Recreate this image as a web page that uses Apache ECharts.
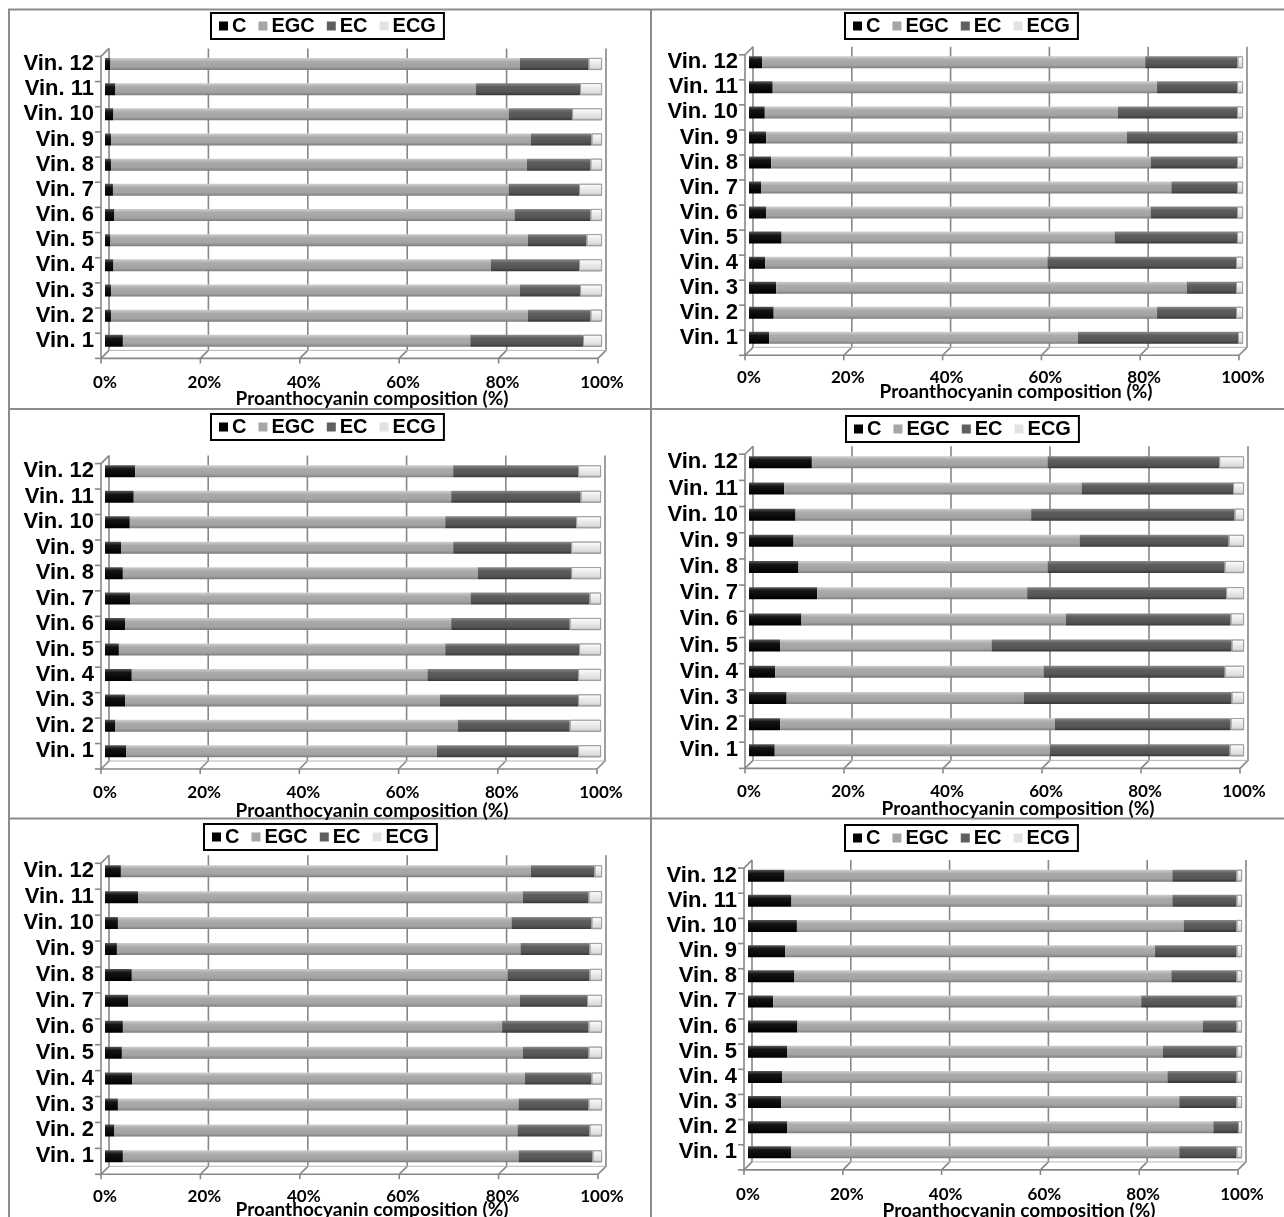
<!DOCTYPE html>
<html><head><meta charset="utf-8">
<script src="https://cdn.jsdelivr.net/npm/echarts@6/dist/echarts.min.js"></script>
<style>html,body{margin:0;padding:0;background:#fff}#c{width:1284px;height:1217px}</style>
</head><body><div id="c"></div>
<script>
const categories = ['Vin. 1','Vin. 2','Vin. 3','Vin. 4','Vin. 5','Vin. 6','Vin. 7','Vin. 8','Vin. 9','Vin. 10','Vin. 11','Vin. 12'];
const seriesNames = ['C','EGC','EC','ECG'];
const xTicks = [0,20,40,60,80,100];
const axisTitle = 'Proanthocyanin composition (%)';

// Panel 1 (top left)
const p1C   = [3.6, 1.2, 1.2, 1.7, 1.1, 1.9, 1.6, 1.2, 1.2, 1.7, 2.1, 1.1];
const p1EGC = [69.9,83.9,82.3,75.9,84.0,80.5,79.6,83.7,84.5,79.5,72.5,82.4];
const p1EC  = [22.7,12.6,12.1,17.8,11.8,15.3,14.2,12.8,12.2,12.8,21.0,13.8];
const p1ECG = [3.8, 2.3, 4.4, 4.6, 3.1, 2.3, 4.6, 2.3, 2.1, 6.0, 4.4, 2.7];
// Panel 2 (top right)
const p2C   = [4.1, 5.0, 5.5, 3.3, 6.6, 3.5, 2.5, 4.5, 3.5, 3.2, 4.8, 2.7];
const p2EGC = [62.5,77.6,83.1,57.1,67.4,77.8,83.0,76.8,73.0,71.5,77.8,77.5];
const p2EC  = [32.4,16.0,10.0,38.2,24.8,17.5,13.3,17.5,22.3,24.1,16.2,18.7];
const p2ECG = [1.0, 1.4, 1.4, 1.4, 1.2, 1.2, 1.2, 1.2, 1.2, 1.2, 1.2, 1.1];
// Panel 3 (middle left)
const p3C   = [4.3, 2.1, 4.1, 5.4, 2.8, 4.1, 5.1, 3.6, 3.3, 5.0, 5.8, 6.1];
const p3EGC = [62.6,69.0,63.4,59.6,65.8,65.7,68.6,71.6,66.9,63.6,64.0,64.1];
const p3EC  = [28.5,22.6,27.9,30.4,27.0,23.9,24.0,18.8,23.8,26.4,26.1,25.2];
const p3ECG = [4.6, 6.3, 4.6, 4.6, 4.4, 6.3, 2.3, 6.0, 6.0, 5.0, 4.1, 4.6];
// Panel 4 (middle right)
const p4C   = [5.2, 6.3, 7.6, 5.3, 6.3, 10.6,13.8,10.0,9.0, 9.4, 7.1, 12.7];
const p4EGC = [55.6,55.5,47.9,54.2,42.7,53.4,42.4,50.3,57.8,47.6,60.1,47.6];
const p4EC  = [36.3,35.5,42.0,36.6,48.5,33.3,40.2,35.8,30.1,41.1,30.6,34.7];
const p4ECG = [2.9, 2.7, 2.5, 3.9, 2.5, 2.7, 3.6, 3.9, 3.1, 1.9, 2.2, 5.0];
// Panel 5 (bottom left)
const p5C   = [3.6, 1.9, 2.6, 5.5, 3.4, 3.6, 4.7, 5.4, 2.4, 2.6, 6.7, 3.2];
const p5EGC = [79.6,81.1,80.6,79.0,80.7,76.3,78.8,75.6,81.2,79.2,77.4,82.5];
const p5EC  = [14.9,14.5,14.1,13.4,13.2,17.4,13.5,16.5,13.9,16.1,13.2,12.8];
const p5ECG = [1.9, 2.5, 2.7, 2.1, 2.7, 2.7, 3.0, 2.5, 2.5, 2.1, 2.7, 1.5];
// Panel 6 (bottom right)
const p6C   = [8.7, 7.9, 6.7, 6.9, 7.9, 10.0,5.1, 9.4, 7.5, 9.9, 8.8, 7.4];
const p6EGC = [78.6,86.3,80.6,78.0,76.1,82.1,74.5,76.3,74.9,78.3,77.1,78.5];
const p6EC  = [11.6,5.0, 11.6,14.0,14.9,6.8, 19.3,13.2,16.5,10.7,13.0,13.0];
const p6ECG = [1.1, 0.8, 1.1, 1.1, 1.1, 1.1, 1.1, 1.1, 1.1, 1.1, 1.1, 1.1];

const panelData = [
  [p1C,p1EGC,p1EC,p1ECG],[p2C,p2EGC,p2EC,p2ECG],[p3C,p3EGC,p3EC,p3ECG],
  [p4C,p4EGC,p4EC,p4ECG],[p5C,p5EGC,p5EC,p5ECG],[p6C,p6EGC,p6EC,p6ECG]
];

// layout (pixels)
const layout = [
  {left:105, width:497, top:51.4, height:302,  lgL:211, lgT:13,  lm:21, tx:372,  ty:399},
  {left:749, width:494, top:49.8, height:300.5,lgL:845, lgT:13,  lm:19, tx:1016, ty:392},
  {left:105, width:496, top:458.6,height:305.4,lgL:211, lgT:414, lm:20, tx:372,  ty:811},
  {left:749, width:495, top:449.2,height:314.2,lgL:846, lgT:416, lm:20, tx:1018, ty:809},
  {left:105, width:497, top:858.3,height:311,  lgL:204, lgT:824, lm:19, tx:372,  ty:1210},
  {left:748, width:494, top:863.1,height:301.8,lgL:845, lgT:825, lm:21, tx:1019, ty:1211}
];

function grad(stops){
  return new echarts.graphic.LinearGradient(0,0,0,1, stops.map(s=>({offset:s[0], color:s[1]})));
}
const fills = {
  C:   [[0,'#5a5a5a'],[0.3,'#141414'],[1,'#000000']],
  EGC: [[0,'#d0d0d0'],[0.3,'#ababab'],[0.75,'#a2a2a2'],[1,'#7c7c7c']],
  EC:  [[0,'#8a8a8a'],[0.3,'#5e5e5e'],[0.75,'#545454'],[1,'#363636']],
  ECG: [[0,'#ffffff'],[0.4,'#ececec'],[0.8,'#dcdcdc'],[1,'#a8a8a8']]
};
const legendColors = {C:'#000000', EGC:'#a6a6a6', EC:'#5f5f5f', ECG:'#e2e2e2'};

const grids=[], xAxes=[], yAxes=[], series=[], legends=[];
layout.forEach((L,i)=>{
  grids.push({left:L.left, top:L.top, width:L.width, height:L.height, containLabel:false});
  xAxes.push({type:'value', gridIndex:i, min:0, max:100, interval:20,
    axisLine:{show:false}, axisTick:{show:false}, splitLine:{show:false},
    axisLabel:{formatter:'{value}%', margin:L.lm, color:'#000', fontFamily:'Lato', fontWeight:'bold', fontSize:17}});
  yAxes.push({type:'category', gridIndex:i, data:categories,
    axisLine:{show:false}, axisTick:{show:false}, splitLine:{show:false},
    axisLabel:{interval:0, margin:11, color:'#000', fontFamily:'Liberation Sans', fontWeight:'bold', fontSize:22}});
  seriesNames.forEach((n,k)=>{
    series.push({name:n, type:'bar', stack:'s'+i, xAxisIndex:i, yAxisIndex:i, barWidth:12,
      data:panelData[i][k], animation:false,
      itemStyle:{color:grad(fills[n]), borderColor: n==='ECG' ? '#9a9a9a' : 'rgba(0,0,0,0)', borderWidth: n==='ECG'?0.8:0}});
  });
  legends.push({left:L.lgL, top:L.lgT, orient:'horizontal', padding:[3,8], itemGap:12, itemWidth:9, itemHeight:9,
    borderColor:'#000', borderWidth:2, icon:'rect', selectedMode:false,
    data:seriesNames.map(n=>({name:n, itemStyle:{color:legendColors[n], borderWidth:0, borderColor:'rgba(0,0,0,0)'}})),
    textStyle:{fontFamily:'Liberation Sans', fontWeight:'bold', fontSize:20, color:'#000', padding:[0,0,0,-1]}});
});

const chart = echarts.init(document.getElementById('c'));
chart.setOption({backgroundColor:'#fff', animation:false, grid:grids, xAxis:xAxes, yAxis:yAxes, series:series, legend:legends});

// 3D frame decorations, computed from the axes
const gcol = '#878787';
const g = [];
function line(pts, w, c){ g.push({type:'polyline', silent:true, shape:{points:pts}, style:{stroke:c||gcol, lineWidth:w||1.6, fill:null}, z:-1}); }
layout.forEach((L,i)=>{
  const X = v => chart.convertToPixel({xAxisIndex:i}, v);
  const c0 = chart.convertToPixel({yAxisIndex:i}, categories[0]);
  const c11 = chart.convertToPixel({yAxisIndex:i}, categories[11]);
  const band = (c0 - c11)/11;
  const top = c11 - band/2, bot = c0 + band/2;
  const bx=4, by=-3, fx=-4, fy=5;
  xTicks.forEach(v=>{
    line([[X(v)+bx, top+by],[X(v)+bx, bot+by],[X(v)+fx, bot+fy],[X(v)+fx, bot+fy+5]]);
  });
  line([[X(0)+fx, bot+fy],[X(100)+fx, bot+fy]]);
  line([[X(0)+bx, bot+by],[X(100)+bx, bot+by]], 1, '#b5b5b5');
  line([[X(0)+fx, top+fy],[X(0)+fx, bot+fy]]);
  line([[X(0)+fx, top+fy],[X(0)+bx, top+by]]);
  for(let k=0;k<=12;k++){
    const yy = top+fy+k*band;
    line([[X(0)+fx-6, yy],[X(0)+fx, yy]]);
  }
  g.push({type:'text', silent:true, style:{text:axisTitle, x:L.tx, y:L.ty, textAlign:'center', textVerticalAlign:'middle',
    font:'bold 19px Lato', fill:'#000'}});
});
// panel borders
const bcol = '#8c8c8c';
line([[9,1217],[9,9.5],[1284,9.5]], 2, bcol);
line([[651,9.5],[651,1217]], 2, bcol);
line([[9,409],[1284,409]], 2, bcol);
line([[9,818.5],[1284,818.5]], 2, bcol);
chart.setOption({graphic:g});
</script></body></html>
